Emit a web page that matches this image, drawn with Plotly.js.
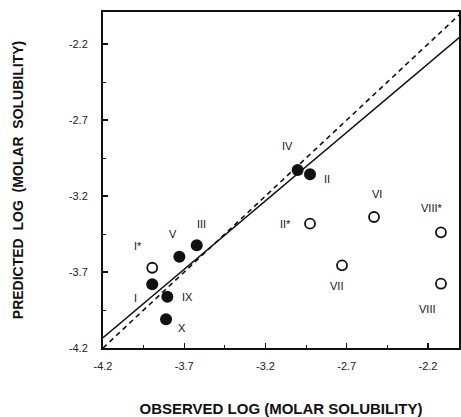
<!DOCTYPE html>
<html>
<head>
<meta charset="utf-8">
<script src="https://cdn.plot.ly/plotly-3.0.1.min.js"></script>
<style>html,body{margin:0;padding:0;background:#fff}#chart{width:461px;height:417px}</style>
</head>
<body>
<div id="chart"></div>
<script>
// Filled circles (compounds on the fit)
const filledNames = ["I", "V", "III", "IX", "X", "IV", "II"];
const filledX = [-3.897, -3.730, -3.623, -3.804, -3.812, -3.002, -2.926];
const filledY = [-3.781, -3.599, -3.524, -3.862, -4.011, -3.029, -3.057];

// Open circles
const openNames = ["I*", "II*", "VI", "VIII*", "VII", "VIII"];
const openX = [-3.897, -2.926, -2.532, -2.120, -2.729, -2.120];
const openY = [-3.672, -3.382, -3.338, -3.439, -3.656, -3.777];

// Lines
const lineX = [-4.2, -2.0];
const fitSlope = 0.901;
const fitIntercept = -0.348;

// Axis ticks
const tickVals = [-4.2, -3.7, -3.2, -2.7, -2.2];
const tickText = ["-4.2", "-3.7", "-3.2", "-2.7", "-2.2"];

// label offsets in pixels (styling)
const filledOffsets = [[-17,14],[-6,-23],[5,-21],[20,0],[16,9],[-10,-24],[17,5]];
const openOffsets = [[-14,-22],[-25,0],[3,-23],[-9,-24],[-6,21],[-13,25]];

const font = "Liberation Sans, Arial, Helvetica, sans-serif";

const traces = [
  {x: lineX, y: lineX.slice(), mode: "lines", line: {color: "#111", width: 1.6, dash: "5px,4px"}, hoverinfo: "skip"},
  {x: lineX, y: lineX.map(v => fitSlope * v + fitIntercept), mode: "lines", line: {color: "#111", width: 1.6}, hoverinfo: "skip"},
  {x: filledX, y: filledY, mode: "markers", marker: {color: "#111", size: 12, line: {width: 0}}, text: filledNames},
  {x: openX, y: openY, mode: "markers", marker: {color: "#fff", size: 10, line: {color: "#111", width: 1.8}}, text: openNames}
];

const annotations = [];
filledNames.forEach((n, i) => annotations.push({x: filledX[i], y: filledY[i], text: n, showarrow: false,
  xshift: filledOffsets[i][0], yshift: -filledOffsets[i][1], font: {family: font, size: 11, color: "#111"}}));
openNames.forEach((n, i) => annotations.push({x: openX[i], y: openY[i], text: n, showarrow: false,
  xshift: openOffsets[i][0], yshift: -openOffsets[i][1], font: {family: font, size: 11, color: "#111"}}));

const axisCommon = {
  tickmode: "array", tickvals: tickVals, ticktext: tickText,
  ticks: "inside", ticklen: 5, tickwidth: 1.2, tickcolor: "#111",
  showline: true, linecolor: "#111", linewidth: 2, mirror: true,
  showgrid: false, zeroline: false,
  tickfont: {family: font, size: 11, color: "#222"},
  minor: {ticks: "inside", ticklen: 3, tickwidth: 1, tickcolor: "#111", tick0: -4.2, dtick: 0.25, showgrid: false}
};

const layout = {
  width: 461, height: 417,
  margin: {l: 103, r: 2, t: 12, b: 69},
  paper_bgcolor: "#fff", plot_bgcolor: "#fff",
  showlegend: false,
  xaxis: Object.assign({}, axisCommon, {
    range: [-4.2, -2.009], ticklabelstandoff: 7,
    title: {text: "OBSERVED LOG (MOLAR SOLUBILITY)", font: {family: font, size: 15, color: "#111", weight: "bold"}, standoff: 34}
  }),
  yaxis: Object.assign({}, axisCommon, {
    range: [-4.2, -1.989], ticklabelstandoff: 11,
    title: {text: "PREDICTED  LOG  (MOLAR  SOLUBILITY)", font: {family: font, size: 14, color: "#111", weight: "bold"}, standoff: 42}
  }),
  annotations: annotations
};

Plotly.newPlot("chart", traces, layout, {displayModeBar: false, staticPlot: true});
</script>
</body>
</html>
